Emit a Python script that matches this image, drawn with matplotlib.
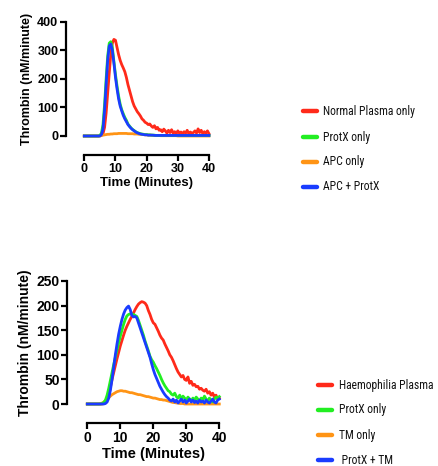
import numpy as np
import matplotlib
matplotlib.use("Agg")
import matplotlib.pyplot as plt
from matplotlib.lines import Line2D
from matplotlib import font_manager

# ---------------- data ----------------
time_top = np.arange(0, 40.01, 0.5)
normal_plasma = [0,0,0,0,0,0,0,0,0,0,
                 0,2,8,30,80,150,220,285,325,338,
                 335,310,285,265,250,238,225,205,180,160,
                 140,120,105,95,85,78,70,60,55,48,
                 45,40,42,35,30,36,25,30,20,22,
                 15,24,18,10,20,12,22,10,15,8,
                 18,10,14,8,15,10,20,8,14,10,
                 12,18,10,25,12,20,8,15,10,18,
                 8]
protx_top = [0,0,0,0,0,0,0,0,0,0,
             2,10,40,110,200,280,325,330,310,260,
             215,175,140,112,92,78,65,55,42,35,
             28,23,19,15,12,10,8,7,6,5,
             5,4,4,3,3,3,2,2,2,2,
             2,2,2,2,2,2,2,2,2,2,
             2,2,2,2,2,2,2,2,2,2,
             2,2,2,2,2,2,2,2,2,2,
             2]
apc_only = [0,0,0,0,0,0,0,0,0,0,
            1,2,3,4,5,6,6,7,7,8,
            8,8,9,9,9,9,9,9,8,8,
            8,8,7,7,7,6,6,5,5,4,
            4,3,3,3,2,2,2,2,2,1,
            1,1,1,1,1,1,1,1,1,1,
            0,0,0,0,0,0,0,0,0,0,
            0,0,0,0,0,0,0,0,0,0,
            0]
apc_protx = [0,0,0,0,0,0,0,0,0,0,
             0,5,25,90,180,265,315,322,300,255,
             205,165,130,105,88,72,60,50,40,33,
             27,22,18,14,11,9,7,6,5,4,
             4,3,3,3,3,2,2,2,2,2,
             2,2,2,2,2,2,2,2,2,2,
             2,2,2,2,2,2,2,2,2,2,
             2,2,2,2,2,2,2,2,2,2,
             2]

time_bot = np.arange(0, 40.01, 0.5)
haemophilia = [0,0,0,0,0,0,0,0,0,0,
               1,3,8,18,34,50,64,78,92,105,
               118,129,140,150,158,165,172,178,185,192,
               198,203,206,208,207,205,200,190,182,172,
               165,162,155,148,140,134,130,122,115,108,
               100,95,88,80,72,65,60,55,58,50,
               48,55,42,46,38,40,35,36,30,32,
               28,26,30,22,25,18,22,14,18,10,
               12]
protx_bot = [0,0,0,0,0,0,0,0,0,1,
             3,8,18,32,48,64,80,95,110,124,
             138,150,162,172,179,182,183,183,182,180,
             178,170,160,150,140,128,118,108,97,90,
             85,78,72,65,58,50,43,37,32,27,
             25,20,18,22,15,12,18,10,16,12,
             8,14,10,6,12,8,14,10,6,12,
             8,16,10,6,12,8,4,10,14,12,
             15]
tm_only = [0,0,0,0,0,0,0,0,1,2,
           4,7,10,13,16,19,21,23,25,26,
           27,27,26,26,25,24,23,23,22,21,
           20,19,19,18,17,16,15,15,14,13,
           12,12,11,10,9,9,8,8,7,6,
           5,4,3,3,2,2,1,1,1,0,
           0,0,0,0,0,0,0,0,0,0,
           0,0,0,0,0,0,0,0,0,0,
           0]
protx_tm = [0,0,0,0,0,0,0,0,0,0,
            0,1,4,12,28,50,75,100,122,142,
            158,172,183,191,196,199,192,180,177,178,
            175,165,155,145,135,125,115,105,95,82,
            70,60,52,44,36,30,24,19,15,12,
            8,6,10,4,8,2,6,10,4,8,
            2,6,10,4,8,3,6,2,8,4,
            6,2,8,4,2,6,10,4,2,8,
            10]

labels_top = ["Normal Plasma only", "ProtX only", "APC only", "APC + ProtX"]
labels_bot = ["Haemophilia Plasma", "ProtX only", "TM only", " ProtX + TM"]
colors = ["#ff2a1a", "#22ee22", "#ff9415", "#1a3cff"]

for s in [normal_plasma, protx_top, apc_only, apc_protx]:
    assert len(s) == len(time_top), len(s)
for s in [haemophilia, protx_bot, tm_only, protx_tm]:
    assert len(s) == len(time_bot), len(s)

# ---------------- fonts ----------------
avail = {f.name for f in font_manager.fontManager.ttflist}
narrow = None
for cand in ["Liberation Sans Narrow", "DejaVu Sans Condensed", "Roboto Condensed",
             "Open Sans Condensed", "Noto Sans Condensed"]:
    if cand in avail:
        narrow = cand
        break
if narrow is None:
    cond = [f for f in font_manager.fontManager.ttflist
            if str(f.stretch) in ("condensed", "semi-condensed", "extra-condensed")
            or (isinstance(f.stretch, int) and f.stretch < 500)]
    narrow = cond[0].name if cond else None

# ---------------- figure ----------------
W, H = 439, 466
fig = plt.figure(figsize=(W / 100, H / 100), dpi=100)

def px_axes(left, right, top, bottom):
    return fig.add_axes([left / W, 1 - bottom / H, (right - left) / W, (bottom - top) / H])

axis_font = "Liberation Sans"
if narrow:
    legend_font = [narrow, "Liberation Sans"]
    legend_size = 8.4
else:
    legend_font = ["Liberation Sans"]
    legend_size = 7.4

def style(ax, ymax, ystep, fs, yoff, xoff):
    ax.set_xlim(0, 40)
    ax.set_ylim(0, ymax)
    for s in ["top", "right"]:
        ax.spines[s].set_visible(False)
    ax.spines["left"].set_position(("outward", yoff))
    ax.spines["bottom"].set_position(("outward", xoff))
    for s in ["left", "bottom"]:
        ax.spines[s].set_linewidth(1.6)
    ax.set_xticks([0, 10, 20, 30, 40])
    ax.set_yticks(np.arange(0, ymax + 1, ystep))
    ax.tick_params(direction="out", length=4, width=1.6, pad=1.5, labelsize=fs)
    for t in ax.get_xticklabels() + ax.get_yticklabels():
        t.set_fontweight("bold")
        t.set_fontfamily(axis_font)
    ax.set_ylabel("Thrombin (nM/minute)", fontsize=fs, fontweight="bold",
                  fontfamily=axis_font, labelpad=3)
    ax.set_xlabel("Time (Minutes)", fontsize=fs + 0.5, fontweight="bold",
                  fontfamily=axis_font, labelpad=2)
    ax.patch.set_visible(False)

def legend(x1, x2, xt, ys, labels):
    for y, lab, c in zip(ys, labels, colors):
        fig.add_artist(Line2D([x1 / W, x2 / W], [1 - y / H, 1 - y / H],
                              transform=fig.transFigure, color=c, lw=3.2,
                              solid_capstyle="round"))
        fig.text(xt / W, 1 - y / H, lab, fontsize=legend_size, family=legend_font,
                 va="center", ha="left", color="#111111")

# top panel
ax1 = px_axes(84.3, 209, 21.7, 136)
series_top = [normal_plasma, protx_top, apc_only, apc_protx]
for vals, c, z in zip(series_top, colors, [2, 3, 2.5, 4]):
    ax1.plot(time_top, vals, color=c, lw=2.0, clip_on=False, zorder=z)
style(ax1, 400, 100, 9, 13.2, 13.7)
legend(303, 317, 323, [111, 137, 162, 187], labels_top)

# bottom panel
ax2 = px_axes(87.3, 219.3, 281, 404)
series_bot = [haemophilia, protx_bot, tm_only, protx_tm]
for vals, c, z in zip(series_bot, colors, [2, 3, 2.5, 4]):
    ax2.plot(time_bot, vals, color=c, lw=2.0, clip_on=False, zorder=z)
style(ax2, 250, 50, 10, 14.4, 13.7)
legend(318, 332, 339, [385, 410, 435, 460], labels_bot)

fig.savefig("out.png", dpi=100)
